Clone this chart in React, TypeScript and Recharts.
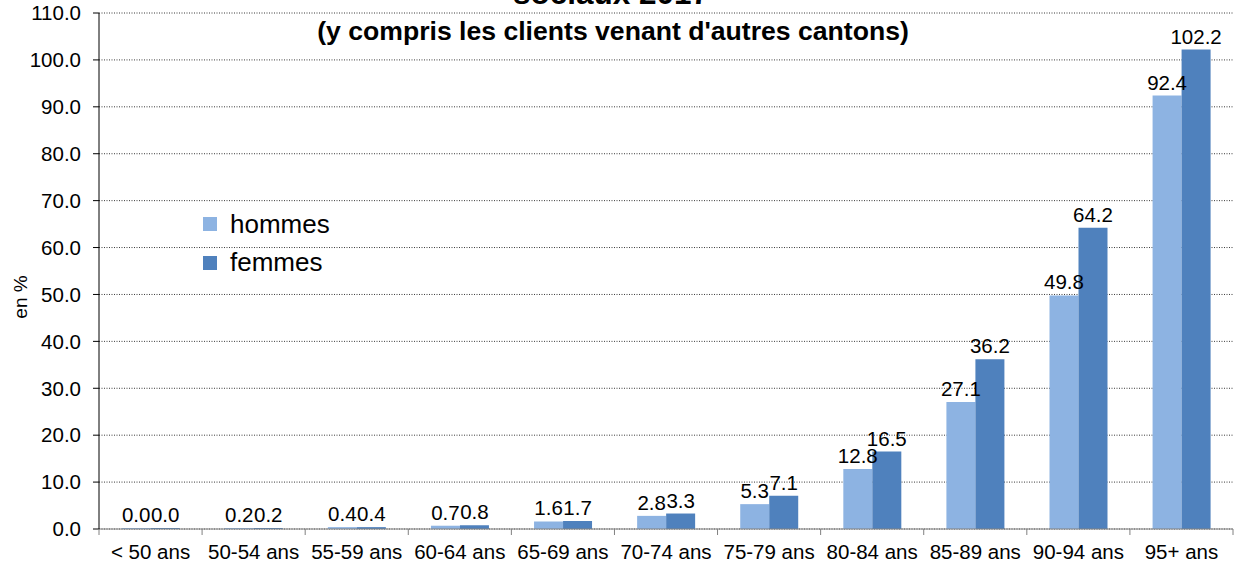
import { Bar, BarChart, CartesianGrid, LabelList, XAxis, YAxis } from "recharts";

const categories = [
  "< 50 ans",
  "50-54 ans",
  "55-59 ans",
  "60-64 ans",
  "65-69 ans",
  "70-74 ans",
  "75-79 ans",
  "80-84 ans",
  "85-89 ans",
  "90-94 ans",
  "95+ ans",
];
const hommes = [0.0, 0.2, 0.4, 0.7, 1.6, 2.8, 5.3, 12.8, 27.1, 49.8, 92.4];
const femmes = [0.0, 0.2, 0.4, 0.8, 1.7, 3.3, 7.1, 16.5, 36.2, 64.2, 102.2];
const yTicks = [0, 10, 20, 30, 40, 50, 60, 70, 80, 90, 100, 110];

const titleLine1 = "sociaux 2017";
const titleLine2 = "(y compris les clients venant d'autres cantons)";

const FONT = "'Liberation Sans', Arial, sans-serif";
const FS = 20.5;
const C_HOMMES = "#8db3e2";
const C_FEMMES = "#4f81bd";

const W = 1234;
const H = 562;
const Y_AXIS_W = 99;
const BAND = (W - 1 - Y_AXIS_W) / categories.length;

const data = categories.map((c, i) => ({ cat: c, hommes: hommes[i], femmes: femmes[i] }));

function XTick(props: any) {
  const { x, y, payload, index } = props;
  const left = x - BAND / 2;
  const last = index === categories.length - 1;
  return (
    <g>
      <line x1={left} x2={left} y1={y - 8} y2={y - 2} stroke="#808080" />
      {last && <line x1={left + BAND} x2={left + BAND} y1={y - 8} y2={y - 2} stroke="#808080" />}
      <text x={x} y={y} dy={22} textAnchor="middle" fontSize={FS} fontFamily={FONT} fill="#000">
        {payload.value}
      </text>
    </g>
  );
}

export default function App() {
  return (
    <div style={{ position: "absolute", left: 0, top: 0, width: W, height: H, overflow: "hidden", background: "#fff" }}>
      <BarChart
        width={W}
        height={H}
        data={data}
        margin={{ top: 13, right: 1, left: 0, bottom: 0 }}
        barCategoryGap="22%"
        barGap={0}
      >
        <CartesianGrid vertical={false} stroke="#3a3a3a" strokeDasharray="1 1.5" />
        <XAxis
          dataKey="cat"
          height={33}
          interval={0}
          tickLine={false}
          tickSize={6}
          tickMargin={2}
          axisLine={{ stroke: "#808080" }}
          tick={<XTick />}
        />
        <YAxis
          width={Y_AXIS_W}
          domain={[0, 110]}
          ticks={yTicks}
          interval={0}
          tickSize={6}
          tickMargin={12}
          tickFormatter={(v: number) => v.toFixed(1)}
          tick={{ fontSize: FS, fontFamily: FONT, fill: "#000" }}
          axisLine={{ stroke: "#000" }}
          tickLine={{ stroke: "#000" }}
          label={{
            content: () => (
              <text
                x={27}
                y={297}
                transform="rotate(-90 27 297)"
                textAnchor="middle"
                fontSize={19}
                fontFamily={FONT}
                fill="#000"
              >
                en %
              </text>
            ),
          }}
        />
        <Bar dataKey="hommes" fill={C_HOMMES} minPointSize={1} isAnimationActive={false}>
          <LabelList
            dataKey="hommes"
            position="top"
            offset={6}
            formatter={(v: any) => Number(v).toFixed(1)}
            style={{ fontSize: FS, fontFamily: FONT, fill: "#000" }}
          />
        </Bar>
        <Bar dataKey="femmes" fill={C_FEMMES} minPointSize={1} isAnimationActive={false}>
          <LabelList
            dataKey="femmes"
            position="top"
            offset={6}
            formatter={(v: any) => Number(v).toFixed(1)}
            style={{ fontSize: FS, fontFamily: FONT, fill: "#000" }}
          />
        </Bar>
      </BarChart>

      <div
        style={{
          position: "absolute",
          left: 0,
          width: W,
          top: -25,
          textAlign: "center",
          fontFamily: FONT,
          fontWeight: "bold",
          fontSize: 31.5,
          lineHeight: "36px",
          whiteSpace: "nowrap",
        }}
      >
        <span style={{ position: "relative", left: -6 }}>{titleLine1}</span>
      </div>
      <div
        style={{
          position: "absolute",
          left: 0,
          width: W,
          top: 15,
          textAlign: "center",
          fontFamily: FONT,
          fontWeight: "bold",
          fontSize: 26.6,
          lineHeight: "32px",
          whiteSpace: "nowrap",
        }}
      >
        <span style={{ position: "relative", left: -4 }}>{titleLine2}</span>
      </div>

      <div style={{ position: "absolute", left: 203, top: 205, fontFamily: FONT, fontSize: 26 }}>
        {[
          { name: "hommes", color: C_HOMMES },
          { name: "femmes", color: C_FEMMES },
        ].map((it) => (
          <div key={it.name} style={{ display: "flex", alignItems: "center", height: 38.5 }}>
            <span style={{ width: 14, height: 14, background: it.color, marginRight: 13, display: "inline-block" }} />
            <span>{it.name}</span>
          </div>
        ))}
      </div>
    </div>
  );
}
